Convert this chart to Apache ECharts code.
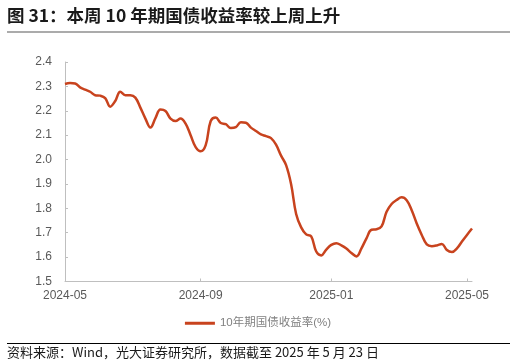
<!DOCTYPE html>
<html>
<head>
<meta charset="utf-8">
<script src="https://cdn.jsdelivr.net/npm/echarts@6/dist/echarts.min.js"></script>
<style>
html,body{margin:0;padding:0;background:#fff;}
#c{width:516px;height:364px;}
</style>
</head>
<body>
<div id="c"></div>
<script>
// 10-year government bond yield (%), sampled evenly from 2024-05 to 2025-05-23
const yieldValues = [
  2.310, 2.314, 2.312, 2.296, 2.287, 2.278, 2.264, 2.262, 2.252, 2.217,
  2.240, 2.278, 2.264, 2.264, 2.254, 2.213, 2.168, 2.131, 2.170, 2.205,
  2.199, 2.168, 2.158, 2.168, 2.147, 2.100, 2.051, 2.034, 2.059, 2.158,
  2.172, 2.150, 2.145, 2.129, 2.133, 2.153, 2.151, 2.131, 2.117, 2.103,
  2.096, 2.088, 2.061, 2.016, 1.977, 1.899, 1.777, 1.722, 1.693, 1.685,
  1.623, 1.607, 1.631, 1.650, 1.657, 1.648, 1.635, 1.617, 1.603, 1.636,
  1.677, 1.712, 1.714, 1.726, 1.786, 1.818, 1.834, 1.845, 1.833, 1.792,
  1.738, 1.691, 1.652, 1.645, 1.648, 1.654, 1.629, 1.621, 1.636, 1.664,
  1.691, 1.717
];
const tickLabels = ['2024-05', '2024-09', '2025-01', '2025-05'];
const tickIndex = [0, 27, 53, 80];
const yTicks = { min: 1.5, max: 2.4, interval: 0.1 };
const seriesName = '10年期国债收益率(%)';
const titleText = '图 31：本周 10 年期国债收益率较上周上升';
const sourceText = '资料来源：Wind，光大证券研究所，数据截至 2025 年 5 月 23 日';

const categories = yieldValues.map((_, i) => String(i));
const isTick = (i) => tickIndex.indexOf(i) >= 0;

const chart = echarts.init(document.getElementById('c'), null, { renderer: 'canvas' });
chart.setOption({
  animation: false,
  backgroundColor: '#fff',
  grid: { left: 65, right: 44, top: 62, bottom: 82.5, containLabel: false },
  xAxis: {
    type: 'category',
    boundaryGap: false,
    data: categories,
    axisLine: { lineStyle: { color: '#bfbfbf', width: 1 } },
    axisTick: { show: true, inside: true, length: 3, interval: (i) => isTick(i), lineStyle: { color: '#bfbfbf' } },
    axisLabel: {
      interval: (i) => isTick(i),
      formatter: (v, i) => { const k = tickIndex.indexOf(Number(v)); return k >= 0 ? tickLabels[k] : ''; },
      color: '#595959', fontSize: 12, fontFamily: 'Liberation Sans, Arial, sans-serif', margin: 8
    },
    splitLine: { show: false }
  },
  yAxis: {
    type: 'value',
    min: yTicks.min, max: yTicks.max, interval: yTicks.interval,
    axisLine: { show: true, lineStyle: { color: '#bfbfbf', width: 1 } },
    axisTick: { show: true, inside: true, length: 3, lineStyle: { color: '#bfbfbf' } },
    axisLabel: { formatter: (v) => v.toFixed(1), color: '#595959', fontSize: 12, fontFamily: 'Liberation Sans, Arial, sans-serif', margin: 13 },
    splitLine: { show: false }
  },
  legend: {
    bottom: 30, left: 'center',
    icon: 'rect',
    itemWidth: 30, itemHeight: 3, itemGap: 10,
    textStyle: { color: '#808080', fontSize: 11.5, fontFamily: 'Liberation Sans, Noto Sans CJK SC, sans-serif' },
    data: [seriesName]
  },
  series: [{
    name: seriesName,
    type: 'line',
    data: yieldValues,
    smooth: 0.4,
    symbol: 'none',
    lineStyle: { color: '#C8431E', width: 2.5 },
    itemStyle: { color: '#C8431E' }
  }],
  graphic: [
    { type: 'text', left: 7, top: 7, style: { text: titleText, fill: '#1a1a1a', font: 'bold 17.5px "Noto Sans CJK SC", sans-serif' } },
    { type: 'line', shape: { x1: 7, y1: 32, x2: 510, y2: 32 }, style: { stroke: '#595959', lineWidth: 1.2 } },
    { type: 'line', shape: { x1: 7, y1: 343.5, x2: 510, y2: 343.5 }, style: { stroke: '#000', lineWidth: 1 } },
    { type: 'text', left: 7, top: 345.5, style: { text: sourceText, fill: '#1a1a1a', font: '13px "Noto Sans CJK SC", sans-serif' } }
  ]
});
</script>
</body>
</html>
